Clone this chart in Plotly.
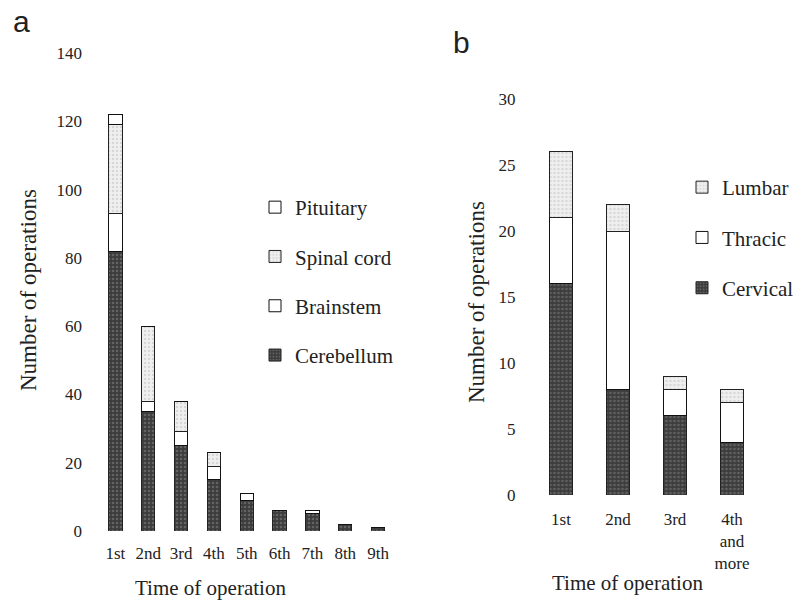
import plotly.graph_objects as go

# ---- Panel a data ----
cats_a = ["1st", "2nd", "3rd", "4th", "5th", "6th", "7th", "8th", "9th"]
cerebellum = [82, 35, 25, 15, 9, 6, 5, 2, 1]
brainstem = [11, 3, 4, 4, 2, 0, 1, 0, 0]
spinal_cord = [26, 22, 9, 4, 0, 0, 0, 0, 0]
pituitary = [3, 0, 0, 0, 0, 0, 0, 0, 0]

# ---- Panel b data ----
cats_b = ["1st", "2nd", "3rd", "4th<br>and<br>more"]
cervical = [16, 8, 6, 4]
thracic = [5, 12, 2, 3]
lumbar = [5, 2, 1, 1]

yticks_a = [0, 20, 40, 60, 80, 100, 120, 140]
yticks_b = [0, 5, 10, 15, 20, 25, 30]

SERIF = "Liberation Serif, Times New Roman, serif"
SANS = "Liberation Sans, Arial, sans-serif"
W, H = 806, 600

dark = dict(color="#4a4a4a", line=dict(color="#222", width=1),
            pattern=dict(shape=".", fgcolor="#8a8a8a", bgcolor="#3c3c3c", size=4, solidity=0.35))
white = dict(color="white", line=dict(color="#111", width=1))
light = dict(color="#e2e2e2", line=dict(color="#222", width=1),
             pattern=dict(shape=".", fgcolor="#bdbdbd", bgcolor="#efefef", size=4, solidity=0.3))

fig = go.Figure()

series_a = [("Cerebellum", cerebellum, dark, 4), ("Brainstem", brainstem, white, 3),
            ("Spinal cord", spinal_cord, light, 2), ("Pituitary", pituitary, white, 1)]
for name, vals, mk, rank in series_a:
    fig.add_trace(go.Bar(x=cats_a, y=vals, name=name, marker=mk, xaxis="x", yaxis="y",
                         legend="legend", legendgroup="a_" + name, legendrank=rank))

series_b = [("Cervical", cervical, dark, 3), ("Thracic", thracic, white, 2), ("Lumbar", lumbar, light, 1)]
for name, vals, mk, rank in series_b:
    fig.add_trace(go.Bar(x=cats_b, y=vals, name=name, marker=mk, xaxis="x2", yaxis="y2",
                         legend="legend2", legendgroup="b_" + name, legendrank=rank))

axis_common = dict(showgrid=False, zeroline=False, showline=False, ticks="", automargin=False,
                   tickfont=dict(family=SERIF, size=17, color="#222"))


def px_ann(text, x, y, size, family=SERIF, angle=0):
    return dict(text=text, x=x / W, y=1 - y / H, xref="paper", yref="paper",
                xanchor="center", yanchor="middle",
                showarrow=False, textangle=angle,
                font=dict(family=family, size=size, color="#222"))


legend_font = dict(family=SERIF, size=21, color="#222")

fig.update_layout(
    width=W, height=H,
    margin=dict(l=0, r=0, t=0, b=0, autoexpand=False),
    paper_bgcolor="white", plot_bgcolor="white",
    barmode="stack", bargap=0.59,
    font=dict(family=SERIF, color="#222"),
    xaxis=dict(domain=[99 / W, 394.5 / W], anchor="y", ticklabelstandoff=10, **axis_common),
    yaxis=dict(domain=[1 - 531 / H, 1 - 53 / H], anchor="x", range=[0, 140], tickvals=yticks_a,
               ticklabelstandoff=16, **axis_common),
    xaxis2=dict(domain=[532.5 / W, 760.5 / W], anchor="y2", ticklabelstandoff=12, **axis_common),
    yaxis2=dict(domain=[1 - 495 / H, 1 - 99 / H], anchor="x2", range=[0, 30], tickvals=yticks_b,
                ticklabelstandoff=16, **axis_common),
    legend=dict(x=255 / W, y=1 - 187 / H, xanchor="left", yanchor="top",
                tracegroupgap=19, font=legend_font, bgcolor="rgba(0,0,0,0)", itemwidth=30),
    legend2=dict(x=682 / W, y=1 - 167 / H, xanchor="left", yanchor="top",
                 tracegroupgap=20, font=legend_font, bgcolor="rgba(0,0,0,0)", itemwidth=30),
    showlegend=True,
    annotations=[
        px_ann("a", 21, 22, 30, SANS),
        px_ann("b", 461, 42, 30, SANS),
        px_ann("Number of operations", 28, 290, 23, angle=-90),
        px_ann("Time of operation", 211, 588, 21),
        px_ann("Number of operations", 476, 302, 23, angle=-90),
        px_ann("Time of operation", 627, 583, 21),
    ],
)

fig.write_html("out.html", config={"displayModeBar": False},
               post_script="document.body.style.margin='0';")
